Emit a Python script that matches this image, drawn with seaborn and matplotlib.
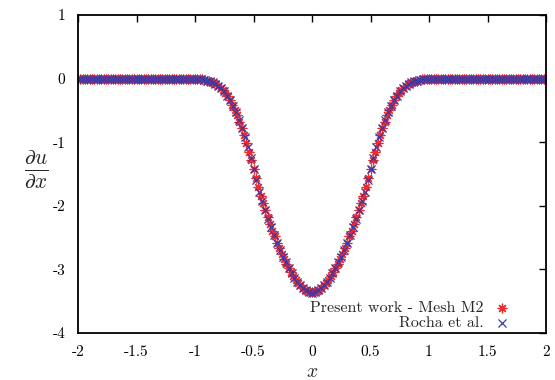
import numpy as np
import pandas as pd
import matplotlib
matplotlib.use("Agg")
import matplotlib.pyplot as plt
import seaborn as sns

# Present work - Mesh M2 (x = -2 .. 2, step 0.02)
present_y = [
    0.00, 0.00, 0.00, 0.00, 0.00, 0.00, 0.00, 0.00, 0.00, 0.00,
    0.00, 0.00, 0.00, 0.00, 0.00, 0.00, 0.00, 0.00, 0.00, 0.00,
    0.00, 0.00, 0.00, 0.00, 0.00, 0.00, 0.00, 0.00, 0.00, 0.00,
    0.00, 0.00, 0.00, 0.00, 0.00, 0.00, 0.00, 0.00, 0.00, 0.00,
    0.00, 0.00, 0.00, 0.00, 0.00, 0.00, 0.00, 0.00, 0.00, 0.00,
    0.00, 0.00, -0.01, -0.01, -0.02, -0.03, -0.04, -0.05, -0.07, -0.09,
    -0.11, -0.14, -0.18, -0.23, -0.28, -0.34, -0.41, -0.49, -0.58, -0.68,
    -0.78, -0.89, -1.02, -1.15, -1.28, -1.42, -1.57, -1.71, -1.84, -1.96,
    -2.07, -2.18, -2.29, -2.39, -2.48, -2.58, -2.67, -2.76, -2.84, -2.91,
    -2.98, -3.04, -3.10, -3.16, -3.21, -3.25, -3.29, -3.32, -3.34, -3.35,
    -3.36,
    -3.35, -3.34, -3.32, -3.29, -3.25, -3.21, -3.16, -3.10, -3.04, -2.98,
    -2.91, -2.84, -2.76, -2.67, -2.58, -2.48, -2.39, -2.29, -2.18, -2.07,
    -1.96, -1.84, -1.71, -1.57, -1.42, -1.28, -1.15, -1.02, -0.89, -0.78,
    -0.68, -0.58, -0.49, -0.41, -0.34, -0.28, -0.23, -0.18, -0.14, -0.11,
    -0.09, -0.07, -0.05, -0.04, -0.03, -0.02, -0.01, -0.01, 0.00, 0.00,
    0.00, 0.00, 0.00, 0.00, 0.00, 0.00, 0.00, 0.00, 0.00, 0.00,
    0.00, 0.00, 0.00, 0.00, 0.00, 0.00, 0.00, 0.00, 0.00, 0.00,
    0.00, 0.00, 0.00, 0.00, 0.00, 0.00, 0.00, 0.00, 0.00, 0.00,
    0.00, 0.00, 0.00, 0.00, 0.00, 0.00, 0.00, 0.00, 0.00, 0.00,
    0.00, 0.00, 0.00, 0.00, 0.00, 0.00, 0.00, 0.00, 0.00, 0.00,
]

# Rocha et al. (x = -2 .. 2, step 0.025)
rocha_y = [
    0.00, 0.00, 0.00, 0.00, 0.00, 0.00, 0.00, 0.00, 0.00, 0.00,
    0.00, 0.00, 0.00, 0.00, 0.00, 0.00, 0.00, 0.00, 0.00, 0.00,
    0.00, 0.00, 0.00, 0.00, 0.00, 0.00, 0.00, 0.00, 0.00, 0.00,
    0.00, 0.00, 0.00, 0.00, 0.00, 0.00, 0.00, 0.00, 0.00, 0.00,
    0.00, -0.01, -0.01, -0.02, -0.03, -0.04, -0.06, -0.08, -0.11, -0.15,
    -0.20, -0.27, -0.34, -0.43, -0.53, -0.65, -0.78, -0.92, -1.08, -1.25,
    -1.42, -1.60, -1.78, -1.93, -2.07, -2.21, -2.34, -2.46, -2.58, -2.69,
    -2.80, -2.89, -2.98, -3.06, -3.13, -3.20, -3.25, -3.30, -3.33, -3.35,
    -3.37,
    -3.35, -3.33, -3.30, -3.25, -3.20, -3.13, -3.06, -2.98, -2.89, -2.80,
    -2.69, -2.58, -2.46, -2.34, -2.21, -2.07, -1.93, -1.78, -1.60, -1.42,
    -1.25, -1.08, -0.92, -0.78, -0.65, -0.53, -0.43, -0.34, -0.27, -0.20,
    -0.15, -0.11, -0.08, -0.06, -0.04, -0.03, -0.02, -0.01, -0.01, 0.00,
    0.00, 0.00, 0.00, 0.00, 0.00, 0.00, 0.00, 0.00, 0.00, 0.00,
    0.00, 0.00, 0.00, 0.00, 0.00, 0.00, 0.00, 0.00, 0.00, 0.00,
    0.00, 0.00, 0.00, 0.00, 0.00, 0.00, 0.00, 0.00, 0.00, 0.00,
    0.00, 0.00, 0.00, 0.00, 0.00, 0.00, 0.00, 0.00, 0.00, 0.00,
]

x_ticks = [-2, -1.5, -1, -0.5, 0, 0.5, 1, 1.5, 2]
x_tick_labels = ["-2", "-1.5", "-1", "-0.5", "0", "0.5", "1", "1.5", "2"]
y_ticks = [-4, -3, -2, -1, 0, 1]
y_tick_labels = ["-4", "-3", "-2", "-1", "0", "1"]

present_x = np.linspace(-2, 2, len(present_y))
rocha_x = np.linspace(-2, 2, len(rocha_y))
df_p = pd.DataFrame({"x": present_x, "y": present_y})
df_r = pd.DataFrame({"x": rocha_x, "y": rocha_y})

sns.set_theme(style="white")
plt.rcParams["font.family"] = ["cmr10", "DejaVu Serif"]
plt.rcParams["mathtext.fontset"] = "cm"
plt.rcParams["axes.unicode_minus"] = False
plt.rcParams["axes.formatter.use_mathtext"] = True

fig = plt.figure(figsize=(5.55, 3.80), dpi=100)
ax = fig.add_axes([78 / 555, 1 - 333 / 380, (546 - 78) / 555, (333 - 15) / 380])

red = "#f02a2a"
blue = "#3a3aa8"

sns.scatterplot(data=df_p, x="x", y="y", ax=ax, marker=(8, 2, 0), s=40,
                color=red, edgecolor=red, linewidth=0.9, label="Present work - Mesh M2")
sns.scatterplot(data=df_r, x="x", y="y", ax=ax, marker="x", s=34,
                color=blue, linewidth=0.9, label="Rocha et al.")

ax.set_xlim(-2, 2)
ax.set_ylim(-4, 1)
ax.set_xticks(x_ticks)
ax.set_xticklabels(x_tick_labels)
ax.set_yticks(y_ticks)
ax.set_yticklabels(y_tick_labels)
ax.tick_params(direction="in", length=5, width=1, top=True, right=True,
               labelsize=11, colors="black", pad=9)
for sp in ax.spines.values():
    sp.set_visible(True)
    sp.set_color("black")
    sp.set_linewidth(1.3)

ax.set_xlabel("")
ax.set_ylabel("")
fig.text(312 / 555, 1 - 372 / 380, r"$x$", ha="center", va="center", fontsize=14)
fig.text(36 / 555, 1 - 170 / 380, r"$\frac{\partial u}{\partial x}$", ha="center",
         va="center", fontsize=22)

leg = ax.legend(loc="lower right", bbox_to_anchor=(0.948, -0.02), frameon=False,
                markerfirst=False, fontsize=11.5, handletextpad=0.6,
                labelspacing=0.05, borderaxespad=0.2, handlelength=1.2)
for t in leg.get_texts():
    t.set_ha("right")
leg._legend_box.align = "right"

fig.savefig("out.png", dpi=100)
